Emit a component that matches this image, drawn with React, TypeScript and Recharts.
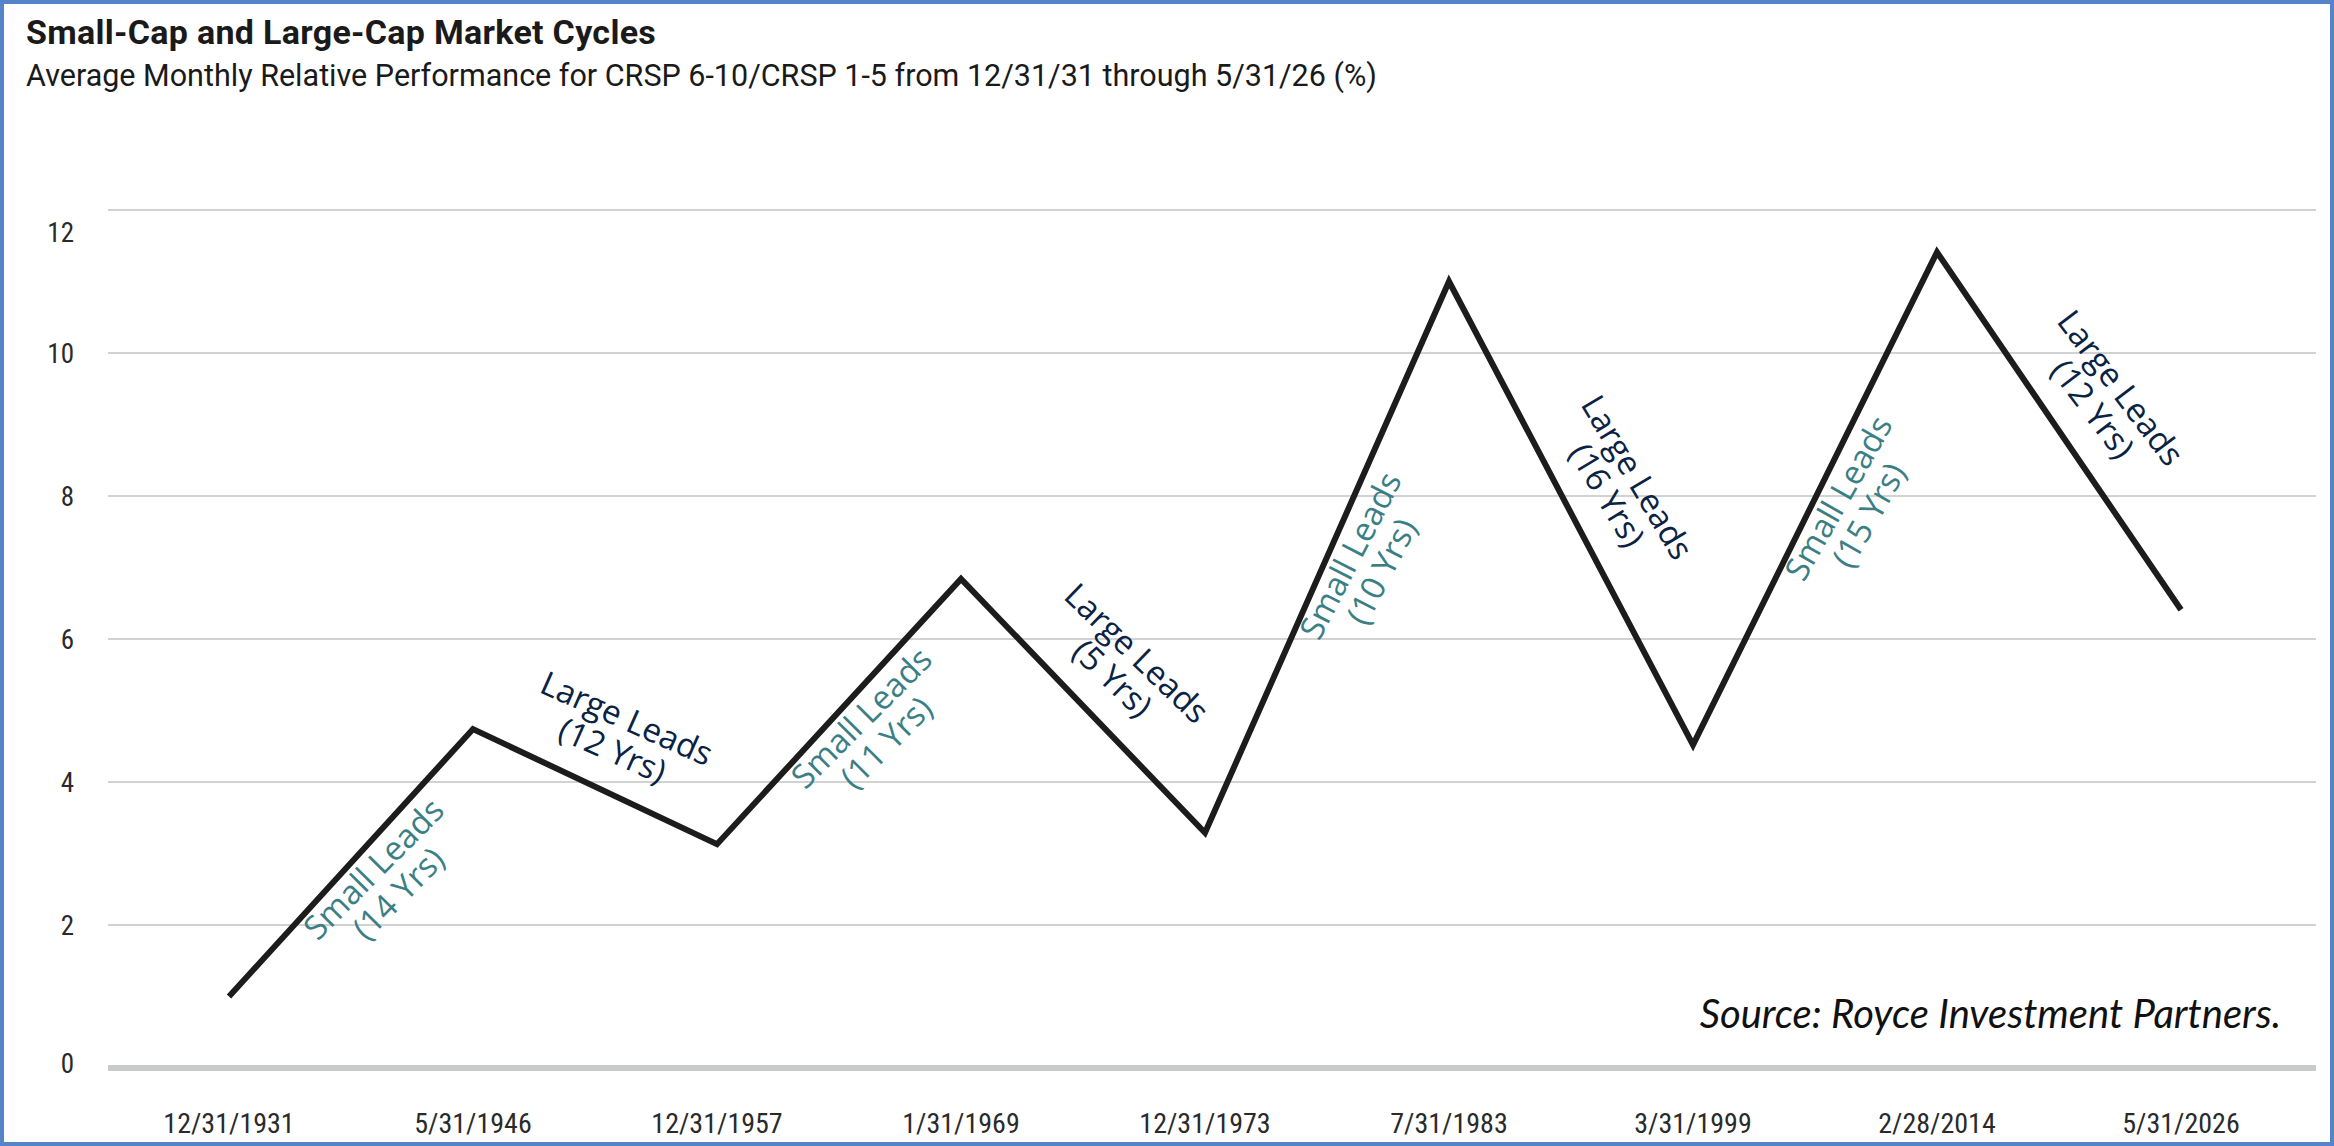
import React from 'react';
import { LineChart, Line, XAxis, YAxis, CartesianGrid, ReferenceLine } from 'recharts';

const cycleDates = [
  '12/31/1931',
  '5/31/1946',
  '12/31/1957',
  '1/31/1969',
  '12/31/1973',
  '7/31/1983',
  '3/31/1999',
  '2/28/2014',
  '5/31/2026',
];
const relativePerf = [1.0, 4.74, 3.13, 6.84, 3.29, 11.0, 4.52, 11.41, 6.41];
const yTicks = [0, 2, 4, 6, 8, 10, 12];
const phaseLeaders = [
  'Small Leads',
  'Large Leads',
  'Small Leads',
  'Large Leads',
  'Small Leads',
  'Large Leads',
  'Small Leads',
  'Large Leads',
];
const phaseYears = ['(14 Yrs)', '(12 Yrs)', '(11 Yrs)', '(5 Yrs)', '(10 Yrs)', '(16 Yrs)', '(15 Yrs)', '(12 Yrs)'];

const TITLE = 'Small-Cap and Large-Cap Market Cycles';
const SUBTITLE = 'Average Monthly Relative Performance for CRSP 6-10/CRSP 1-5 from 12/31/31 through 5/31/26 (%)';
const SOURCE = 'Source: Royce Investment Partners.';

const data = cycleDates.map((d, i) => ({ date: d, value: relativePerf[i] }));

const W = 2334;
const H = 1146;
const AXIS_FONT = "'Liberation Sans Narrow', 'Arial Narrow', 'Roboto Condensed', Roboto, sans-serif";

const PhaseLabel = (props: any) => {
  const { index, points } = props;
  const key = `phase-${index}`;
  if (!points || index >= points.length - 1) return <g key={key} />;
  const p0 = points[index];
  const p1 = points[index + 1];
  const dx = p1.x - p0.x;
  const dy = p1.y - p0.y;
  const len = Math.hypot(dx, dy);
  const ux = dx / len;
  const uy = dy / len;
  const rising = dy < 0;
  const nx = rising ? -uy : uy;
  const ny = rising ? ux : -ux;
  const perp = rising ? 38 : 58;
  const along = rising ? 10 : 0;
  const cx = (p0.x + p1.x) / 2 + ux * along + nx * perp;
  const cy = (p0.y + p1.y) / 2 + uy * along + ny * perp;
  const angle = ((Math.atan2(dy, dx) * 180) / Math.PI) * 0.95;
  const small = phaseLeaders[index].startsWith('Small');
  return (
    <text
      key={key}
      x={cx}
      y={cy}
      transform={`rotate(${angle} ${cx} ${cy})`}
      textAnchor="middle"
      fontFamily="'Open Sans', 'Noto Sans', sans-serif"
      fontSize={33}
      fontWeight={small ? 400 : 500}
      fill={small ? '#3b7f86' : '#0a2244'}
    >
      <tspan x={cx} dy="-0.17em">
        {phaseLeaders[index]}
      </tspan>
      <tspan x={cx} dy="1.06em">
        {phaseYears[index]}
      </tspan>
    </text>
  );
};

const YTick = (props: any) => {
  const { x, y, payload } = props;
  const shift = payload.value === 12 ? 22 : payload.value === 0 ? -5 : 0;
  return (
    <text x={x} y={y + shift} dy="0.355em" textAnchor="end" fontFamily={AXIS_FONT} fontSize={27} fill="#2a2a2a">
      {payload.value}
    </text>
  );
};

export default function App() {
  return (
    <div style={{ position: 'absolute', left: 0, top: 0, width: W, height: H, background: '#ffffff', overflow: 'hidden' }}>
      <LineChart width={W} height={H} data={data} margin={{ top: 210, right: 18, bottom: 18, left: 0 }}>
        <CartesianGrid horizontal vertical={false} stroke="#d2d2d2" strokeWidth={2} />
        <XAxis
          dataKey="date"
          type="category"
          padding={{ left: 121, right: 135 }}
          axisLine={false}
          tickLine={false}
          tickSize={0}
          tickMargin={45}
          height={60}
          interval={0}
          tick={{ fontFamily: AXIS_FONT, fontSize: 28, fill: '#2a2a2a' }}
        />
        <YAxis
          domain={[0, 12]}
          ticks={yTicks}
          interval={0}
          width={108}
          axisLine={false}
          tickLine={false}
          tickSize={0}
          tickMargin={34}
          tick={<YTick />}
        />
        <ReferenceLine y={0} stroke="#c9cacc" strokeWidth={6} />
        <Line
          type="linear"
          dataKey="value"
          stroke="#1c1c1c"
          strokeWidth={6}
          strokeLinejoin="miter"
          isAnimationActive={false}
          dot={(p: any) => <PhaseLabel key={`pl-${p.index}`} {...p} />}
          activeDot={false}
        />
      </LineChart>
      <svg width={W} height={H} style={{ position: 'absolute', left: 0, top: 0, pointerEvents: 'none' }}>
        <text x={26} y={44} fontFamily="Roboto, 'Liberation Sans', sans-serif" fontWeight={700} fontSize={34} letterSpacing={0.3} fill="#1a1a1a">
          {TITLE}
        </text>
        <text x={26} y={86} fontFamily="Roboto, 'Liberation Sans', sans-serif" fontSize={30.5} fill="#1a1a1a">
          {SUBTITLE}
        </text>
        <text x={2281} y={1028} textAnchor="end" fontFamily="Lato, 'Open Sans', sans-serif" fontStyle="italic" fontSize={40} fill="#111111">
          {SOURCE}
        </text>
      </svg>
      <div
        style={{
          position: 'absolute',
          left: 0,
          top: 0,
          width: W,
          height: H,
          boxSizing: 'border-box',
          border: '4px solid #5585c8',
          pointerEvents: 'none',
        }}
      />
    </div>
  );
}
